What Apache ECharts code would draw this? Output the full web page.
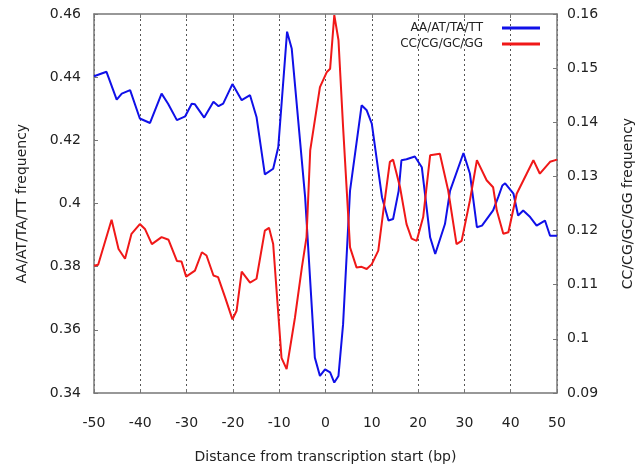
<!DOCTYPE html>
<html>
<head>
<meta charset="utf-8">
<script src="https://cdn.jsdelivr.net/npm/echarts@6/dist/echarts.min.js"></script>
<style>html,body{margin:0;padding:0;background:#fff}#c{width:640px;height:465px}</style>
</head>
<body>
<div id="c"></div>
<script>
const xTicks = [-50, -40, -30, -20, -10, 0, 10, 20, 30, 40, 50];
const blueName = 'AA/AT/TA/TT';
const redName = 'CC/CG/GC/GG';
const blueX = [-50, -47.3, -45.1, -44, -42.2, -40.1, -37.9, -35.4, -34, -32.1, -30.3, -28.9, -28.2, -26.2, -24.2, -23.1, -22.1, -20.1, -18.1, -16.3, -14.9, -13.1, -11.3, -10.2, -8.3, -7.3, -4.4, -2.3, -1.2, -0.1, 1.0, 1.9, 2.8, 3.8, 5.3, 7.8, 8.9, 10.0, 12.2, 13.6, 14.6, 15.8, 16.4, 17.5, 19.3, 20.8, 22.6, 23.7, 25.8, 26.9, 29.8, 31.2, 32.7, 33.8, 36.2, 37.3, 38.2, 38.8, 40.6, 41.6, 42.7, 44.2, 45.6, 47.4, 48.5, 50];
const blueY = [0.4403, 0.4417, 0.4329, 0.4348, 0.4359, 0.4269, 0.4255, 0.4348, 0.4316, 0.4264, 0.4276, 0.4316, 0.4314, 0.4272, 0.4322, 0.4308, 0.4316, 0.4378, 0.4327, 0.4343, 0.4274, 0.4092, 0.4110, 0.4179, 0.4544, 0.4491, 0.4020, 0.3512, 0.3454, 0.3475, 0.3465, 0.3433, 0.3454, 0.3618, 0.4041, 0.4311, 0.4295, 0.4253, 0.4020, 0.3946, 0.3951, 0.4040, 0.4137, 0.4140, 0.4149, 0.4115, 0.3893, 0.3840, 0.3935, 0.4040, 0.4160, 0.4094, 0.3925, 0.3930, 0.3978, 0.4020, 0.4057, 0.4064, 0.4031, 0.3962, 0.3978, 0.3957, 0.3930, 0.3946, 0.3898, 0.3898];
const redX = [-50, -49.1, -46.2, -44.7, -43.3, -41.9, -40.1, -39, -37.5, -35.4, -33.9, -32.1, -31.1, -30.1, -28.2, -26.7, -25.7, -24.2, -23.2, -21.7, -20.1, -19.2, -18.1, -16.3, -14.9, -13.1, -12.2, -11.3, -9.5, -8.4, -6.6, -5.1, -4.1, -3.3, -1.2, 0.3, 1.0, 1.9, 2.8, 3.8, 5.3, 6.7, 7.8, 8.9, 10.0, 11.4, 12.5, 13.9, 14.6, 16.1, 17.5, 18.6, 19.7, 21.1, 22.6, 24.7, 26.5, 28.3, 29.4, 31.2, 32.7, 34.8, 36.2, 37.0, 38.4, 39.5, 41.3, 44.9, 46.3, 48.5, 50];
const redY = [0.1135, 0.1137, 0.1220, 0.1166, 0.1148, 0.1194, 0.1212, 0.1203, 0.1175, 0.1188, 0.1183, 0.1144, 0.1143, 0.1115, 0.1126, 0.1160, 0.1154, 0.1117, 0.1114, 0.1077, 0.1036, 0.1052, 0.1124, 0.1104, 0.1111, 0.1200, 0.1205, 0.1175, 0.0965, 0.0944, 0.1039, 0.1132, 0.1188, 0.1348, 0.1465, 0.1493, 0.1499, 0.1598, 0.1552, 0.1391, 0.1169, 0.1132, 0.1133, 0.1129, 0.1138, 0.1163, 0.1237, 0.1327, 0.1331, 0.1280, 0.1212, 0.1185, 0.1181, 0.1225, 0.1339, 0.1342, 0.1274, 0.1175, 0.1181, 0.1256, 0.1330, 0.1293, 0.1280, 0.1237, 0.1194, 0.1197, 0.1268, 0.1330, 0.1305, 0.1327, 0.1331];
const leftMin = 0.34, leftMax = 0.46, leftStep = 0.02;
const rightMin = 0.09, rightMax = 0.16, rightStep = 0.01;

const FONT = 'DejaVu Sans';
const frameColor = '#777';
const textColor = '#222';
const fmt = v => String(parseFloat(v.toFixed(3)));

const chart = echarts.init(document.getElementById('c'), null, {renderer: 'canvas'});
chart.setOption({
  animation: false,
  backgroundColor: '#fff',
  textStyle: {fontFamily: FONT},
  grid: {left: 94, right: 83, top: 14, bottom: 72, show: false, containLabel: false, outerBoundsMode: 'none'},
  legend: {
    orient: 'vertical', right: 95, top: 17, align: 'right',
    itemWidth: 38, itemHeight: 3, itemGap: 4, icon: 'rect',
    textStyle: {fontFamily: FONT, fontSize: 12, color: textColor, padding: [0, 14, 0, 0]},
    data: [blueName, redName]
  },
  xAxis: [{
    type: 'value', min: xTicks[0], max: xTicks[xTicks.length - 1], interval: 10,
    name: 'Distance from transcription start (bp)', nameLocation: 'middle', nameGap: 57,
    nameTextStyle: {fontFamily: FONT, fontSize: 14, color: textColor},
    axisLine: {show: true, onZero: false, lineStyle: {color: frameColor, width: 1.5}},
    axisTick: {show: true, inside: true, length: 4, lineStyle: {color: frameColor}},
    axisLabel: {fontFamily: FONT, fontSize: 14, color: textColor, margin: 23},
    splitLine: {show: true, lineStyle: {color: '#555', type: [2, 3], width: 1}}
  }, {
    type: 'value', position: 'top', min: xTicks[0], max: xTicks[xTicks.length - 1], interval: 10,
    axisLine: {show: true, onZero: false, lineStyle: {color: frameColor, width: 1.5}},
    axisTick: {show: true, inside: true, length: 4, lineStyle: {color: frameColor}},
    axisLabel: {show: false}, splitLine: {show: false}
  }],
  yAxis: [{
    type: 'value', position: 'left', min: leftMin, max: leftMax, interval: leftStep,
    name: 'AA/AT/TA/TT frequency', nameLocation: 'middle', nameGap: 65, nameRotate: 90,
    nameTextStyle: {fontFamily: FONT, fontSize: 14, color: textColor},
    axisLine: {show: true, onZero: false, lineStyle: {color: frameColor, width: 1.5}},
    axisTick: {show: true, inside: true, length: 4, lineStyle: {color: frameColor}},
    axisLabel: {fontFamily: FONT, fontSize: 14, color: textColor, margin: 13, formatter: fmt},
    splitLine: {show: false}
  }, {
    type: 'value', position: 'right', min: rightMin, max: rightMax, interval: rightStep,
    name: 'CC/CG/GC/GG frequency', nameLocation: 'middle', nameGap: 64, nameRotate: 90,
    nameTextStyle: {fontFamily: FONT, fontSize: 14, color: textColor},
    axisLine: {show: true, onZero: false, lineStyle: {color: frameColor, width: 1.5}},
    axisTick: {show: true, inside: true, length: 4, lineStyle: {color: frameColor}},
    axisLabel: {fontFamily: FONT, fontSize: 14, color: textColor, margin: 10, formatter: fmt},
    splitLine: {show: false}
  }],
  series: [{
    name: blueName, type: 'line', xAxisIndex: 0, yAxisIndex: 0, showSymbol: false, symbol: 'none',
    data: blueX.map((x, i) => [x, blueY[i]]),
    itemStyle: {color: '#1010e8'}, lineStyle: {color: '#1010e8', width: 2}
  }, {
    name: redName, type: 'line', xAxisIndex: 0, yAxisIndex: 1, showSymbol: false, symbol: 'none',
    data: redX.map((x, i) => [x, redY[i]]),
    itemStyle: {color: '#f01818'}, lineStyle: {color: '#f01818', width: 2}
  }]
});
</script>
</body>
</html>
